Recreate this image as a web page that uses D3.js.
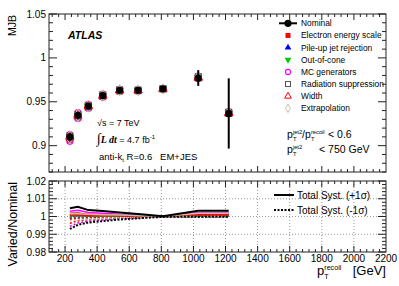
<!DOCTYPE html>
<html lang="en">
<head>
<meta charset="UTF-8">
<title>MJB systematic variations</title>
<style>
  body { margin: 0; background: #fff; }
  svg { display: block; }
  text { font-family: "Liberation Sans", Arial, sans-serif; fill: #000; }
  .frame { fill: none; stroke: #222; stroke-width: 1; }
  .tick { stroke: #222; stroke-width: 1; }
  .grid { stroke: #999; stroke-width: 1; stroke-dasharray: 1,2; }
  .pre { white-space: pre; }
</style>
</head>
<body>
<script src="https://cdn.jsdelivr.net/npm/d3@7"></script>
<script>
// bin centres of p_T^recoil [GeV]
const ptBins = [230, 280, 345, 435, 540, 655, 810, 1030, 1220];
const mjbNominal = [0.910, 0.9345, 0.945, 0.957, 0.963, 0.963, 0.9647, 0.9771, 0.9367];
const mjbStatErr = [0.004, 0.003, 0.003, 0.002, 0.002, 0.002, 0.002, 0.009, 0.040];

// varied / nominal ratios per systematic
const sysNames = ["Electron energy scale", "Pile-up jet rejection", "Out-of-cone", "MC generators",
                  "Radiation suppression", "Width", "Extrapolation"];
const sysColors = ["#ff0000", "#0000ff", "#00cc00", "#ff00ff", "#555555", "#ff0000", "#c8c0a8"];
const sysShapes = ["square", "triangle", "triangleDown", "circle", "squareOpen", "triangleOpen", "diamondOpen"];
const sysUp = [
  [1.0018, 1.0020, 1.0012, 1.0010, 1.0008, 1.0005, 1.0000, 1.0010, 1.0010],
  [1.0004, 1.0004, 1.0003, 1.0002, 1.0002, 1.0001, 1.0000, 1.0002, 1.0002],
  [1.0005, 1.0005, 1.0004, 1.0003, 1.0002, 1.0001, 1.0000, 1.0003, 1.0003],
  [1.0030, 1.0035, 1.0022, 1.0018, 1.0012, 1.0008, 1.0000, 1.0022, 1.0022],
  [1.0012, 1.0012, 1.0010, 1.0008, 1.0006, 1.0004, 1.0000, 1.0015, 1.0015],
  [1.0008, 1.0008, 1.0006, 1.0005, 1.0004, 1.0002, 1.0000, 1.0008, 1.0008],
  [1.0015, 1.0016, 1.0012, 1.0010, 1.0008, 1.0005, 1.0000, 1.0018, 1.0018]
];
const sysDown = [
  [0.9962, 0.9975, 0.9982, 0.9986, 0.9990, 0.9994, 0.9999, 1.0000, 1.0000],
  [0.9996, 0.9996, 0.9997, 0.9998, 0.9998, 0.9999, 1.0000, 1.0000, 1.0000],
  [0.9995, 0.9995, 0.9996, 0.9997, 0.9998, 0.9999, 1.0000, 1.0000, 1.0000],
  [0.9945, 0.9963, 0.9974, 0.9980, 0.9987, 0.9992, 0.9999, 1.0000, 1.0000],
  [0.9985, 0.9988, 0.9990, 0.9992, 0.9994, 0.9996, 1.0000, 1.0000, 1.0000],
  [0.9990, 0.9992, 0.9994, 0.9995, 0.9996, 0.9998, 1.0000, 1.0000, 1.0000],
  [0.9975, 0.9982, 0.9986, 0.9989, 0.9992, 0.9995, 0.9999, 1.0000, 1.0000]
];
const totalUp = [1.0047, 1.0055, 1.0036, 1.0031, 1.0023, 1.0014, 1.0001, 1.0033, 1.0033];
const totalDown = [0.9930, 0.9953, 0.9966, 0.9974, 0.9983, 0.9990, 0.9998, 0.9999, 0.9999];

const xTicks = [200, 400, 600, 800, 1000, 1200, 1400, 1600, 1800, 2000, 2200];
const yTicksTop = [0.9, 0.95, 1, 1.05];
const yTicksBot = [0.98, 0.99, 1, 1.01, 1.02];

const W = 399, H = 286;
const svg = d3.select("body").append("svg").attr("width", W).attr("height", H);

const x = d3.scaleLinear().domain([100, 2200]).range([49, 386]);
const yTop = d3.scaleLinear().domain([0.87, 1.05]).range([172, 14]);
const yBot = d3.scaleLinear().domain([0.98, 1.02]).range([252, 181]);

// ---------- frames and ticks ----------
function drawFrame(y, yMajor, yMinorStep, yFmt) {
  const g = svg.append("g");
  const [y0, y1] = y.range();
  const [x0, x1] = x.range();
  g.append("rect").attr("class", "frame")
    .attr("x", x0).attr("y", y1).attr("width", x1 - x0).attr("height", y0 - y1);

  // x ticks, major every 200, minor every 40
  d3.range(120, 2200, 40).forEach(v => {
    const major = v % 200 === 0;
    const len = major ? 6 : 3;
    g.append("line").attr("class", "tick").attr("x1", x(v)).attr("x2", x(v)).attr("y1", y0).attr("y2", y0 - len);
    g.append("line").attr("class", "tick").attr("x1", x(v)).attr("x2", x(v)).attr("y1", y1).attr("y2", y1 + len);
  });

  // y ticks
  const [d0, d1] = y.domain();
  const n = Math.round((d1 - d0) / yMinorStep);
  for (let i = 0; i <= n; i++) {
    const v = d0 + i * yMinorStep;
    const major = yMajor.some(m => Math.abs(m - v) < 1e-6);
    const len = major ? 8 : 4;
    g.append("line").attr("class", "tick").attr("x1", x0).attr("x2", x0 + len).attr("y1", y(v)).attr("y2", y(v));
    g.append("line").attr("class", "tick").attr("x1", x1).attr("x2", x1 - len).attr("y1", y(v)).attr("y2", y(v));
  }
  yMajor.forEach(v => {
    g.append("text").attr("x", x0 - 3).attr("y", y(v)).attr("dy", "0.35em")
      .attr("text-anchor", "end").attr("font-size", 10).text(yFmt(v));
  });
  return g;
}

// ---------- lower panel grid ----------
const gridG = svg.append("g");
xTicks.filter(v => v < 2200).forEach(v => {
  gridG.append("line").attr("class", "grid").attr("x1", x(v)).attr("x2", x(v))
    .attr("y1", yBot.range()[1]).attr("y2", yBot.range()[0]);
});
[0.99, 1, 1.01].forEach(v => {
  gridG.append("line").attr("class", "grid").attr("x1", x.range()[0]).attr("x2", x.range()[1])
    .attr("y1", yBot(v)).attr("y2", yBot(v));
});

drawFrame(yTop, yTicksTop, 0.01, d => d3.format("")(+d.toFixed(2)));
drawFrame(yBot, yTicksBot, 0.002, d => d3.format("")(+d.toFixed(2)));

// x tick labels
xTicks.forEach(v => {
  svg.append("text").attr("x", x(v)).attr("y", 262).attr("text-anchor", "middle")
    .attr("font-size", 10).text(v);
});

// ---------- markers ----------
function marker(g, shape, cx, cy, color, s) {
  s = s || 3;
  if (shape === "circle") {
    g.append("circle").attr("cx", cx).attr("cy", cy).attr("r", s).attr("fill", "none")
      .attr("stroke", color).attr("stroke-width", 1.2);
  } else if (shape === "square") {
    g.append("rect").attr("x", cx - s).attr("y", cy - s).attr("width", 2 * s).attr("height", 2 * s).attr("fill", color);
  } else if (shape === "squareOpen") {
    g.append("rect").attr("x", cx - s).attr("y", cy - s).attr("width", 2 * s).attr("height", 2 * s)
      .attr("fill", "none").attr("stroke", color).attr("stroke-width", 1);
  } else {
    const sym = shape.startsWith("diamond") ? d3.symbolDiamond : d3.symbolTriangle;
    const open = shape.endsWith("Open");
    const rot = shape === "triangleDown" ? 180 : 0;
    g.append("path").attr("d", d3.symbol().type(sym).size(s * s * 3.2)())
      .attr("transform", `translate(${cx},${cy}) rotate(${rot})`)
      .attr("fill", open ? "none" : color).attr("stroke", open ? color : "none").attr("stroke-width", 1);
  }
}

// ---------- upper panel points ----------
const topG = svg.append("g");
sysNames.forEach((name, k) => {
  ptBins.forEach((pt, i) => {
    marker(topG, sysShapes[k], x(pt), yTop(mjbNominal[i] * sysUp[k][i]), sysColors[k], 3);
    marker(topG, sysShapes[k], x(pt), yTop(mjbNominal[i] * sysDown[k][i]), sysColors[k], 3);
  });
});
ptBins.forEach((pt, i) => {
  topG.append("line").attr("x1", x(pt)).attr("x2", x(pt))
    .attr("y1", yTop(mjbNominal[i] - mjbStatErr[i])).attr("y2", yTop(mjbNominal[i] + mjbStatErr[i]))
    .attr("stroke", "#000").attr("stroke-width", 2);
  topG.append("circle").attr("cx", x(pt)).attr("cy", yTop(mjbNominal[i])).attr("r", 3.6).attr("fill", "#000");
});

// ---------- lower panel ratio lines ----------
const botG = svg.append("g");
const ratioLine = (vals, y) => d3.line().x((d, i) => x(ptBins[i])).y(d => y(d))(vals);
sysNames.forEach((name, k) => {
  botG.append("path").attr("d", ratioLine(sysUp[k], yBot)).attr("fill", "none")
    .attr("stroke", sysColors[k]).attr("stroke-width", 1.5);
  botG.append("path").attr("d", ratioLine(sysDown[k], yBot)).attr("fill", "none")
    .attr("stroke", sysColors[k]).attr("stroke-width", 1.5).attr("stroke-dasharray", "2,2");
});
botG.append("path").attr("d", ratioLine(totalUp, yBot)).attr("fill", "none")
  .attr("stroke", "#000").attr("stroke-width", 2);
botG.append("path").attr("d", ratioLine(totalDown, yBot)).attr("fill", "none")
  .attr("stroke", "#000").attr("stroke-width", 2).attr("stroke-dasharray", "2,1.5");

// ---------- legends ----------
const leg = svg.append("g");
const legY0 = 23.3, legDy = 12.15, legFs = 8.4;
leg.append("line").attr("x1", 279).attr("x2", 297).attr("y1", legY0).attr("y2", legY0)
  .attr("stroke", "#000").attr("stroke-width", 2);
leg.append("circle").attr("cx", 288).attr("cy", legY0).attr("r", 3.6).attr("fill", "#000");
leg.append("text").attr("x", 301).attr("y", legY0).attr("dy", "0.35em").attr("font-size", legFs).text("Nominal");
sysNames.forEach((name, k) => {
  const yy = legY0 + (k + 1) * legDy;
  marker(leg, sysShapes[k], 288, yy, sysColors[k], 2.5);
  leg.append("text").attr("x", 301).attr("y", yy).attr("dy", "0.35em").attr("font-size", legFs).text(name);
});

const leg2 = svg.append("g");
leg2.append("line").attr("x1", 274).attr("x2", 294).attr("y1", 195).attr("y2", 195)
  .attr("stroke", "#000").attr("stroke-width", 2);
leg2.append("text").attr("x", 297).attr("y", 195).attr("dy", "0.35em").attr("font-size", 10).text("Total Syst. (+1σ)");
leg2.append("line").attr("x1", 274).attr("x2", 294).attr("y1", 210).attr("y2", 210)
  .attr("stroke", "#000").attr("stroke-width", 2).attr("stroke-dasharray", "2,1.5");
leg2.append("text").attr("x", 297).attr("y", 210).attr("dy", "0.35em").attr("font-size", 10).text("Total Syst. (-1σ)");

// ---------- labels ----------
svg.append("text").attr("x", 68).attr("y", 39).attr("font-size", 10.5)
  .attr("font-weight", "bold").attr("font-style", "italic").text("ATLAS");

svg.append("text").attr("x", 97).attr("y", 126).attr("font-size", 9).text("√s = 7 TeV");

const lumi = svg.append("text").attr("x", 97).attr("y", 143).attr("font-size", 9);
lumi.append("tspan").attr("font-family", "Liberation Serif, serif").attr("font-size", 14).text("∫");
lumi.append("tspan").attr("font-family", "Liberation Serif, serif").attr("font-style", "italic")
  .attr("font-weight", "bold").attr("font-size", 10).text("L dt");
lumi.append("tspan").text(" = 4.7 fb");
lumi.append("tspan").attr("font-size", 6).attr("dy", -4).text("-1");

const algo = svg.append("text").attr("class", "pre").attr("x", 99).attr("y", 160).attr("font-size", 9.5);
algo.append("tspan").text("anti-k");
algo.append("tspan").attr("font-size", 6).attr("dy", 2).text("t");
algo.append("tspan").attr("dy", -2).text(" R=0.6   EM+JES");

// p_T with super- and subscript, drawn as separate texts
function ptText(px, py, size, sup) {
  const small = size * 0.55;
  svg.append("text").attr("x", px).attr("y", py).attr("font-size", size).text("p");
  svg.append("text").attr("x", px + size * 0.56).attr("y", py - size * 0.42).attr("font-size", small).text(sup);
  svg.append("text").attr("x", px + size * 0.56).attr("y", py + size * 0.28).attr("font-size", small).text("T");
}
ptText(287, 138, 10.5, "jet2");
svg.append("text").attr("x", 302).attr("y", 138).attr("font-size", 10.5).text("/");
ptText(305, 138, 10.5, "recoil");
svg.append("text").attr("x", 328).attr("y", 138).attr("font-size", 10.5).text("< 0.6");
ptText(287, 153, 10.5, "jet2");
svg.append("text").attr("x", 319).attr("y", 153).attr("font-size", 10.5).text("< 750 GeV");

svg.append("text").attr("transform", "translate(16,15) rotate(-90)").attr("text-anchor", "end")
  .attr("font-size", 10.5).text("MJB");
svg.append("text").attr("transform", "translate(17,182) rotate(-90)").attr("text-anchor", "end")
  .attr("font-size", 12.5).text("Varied/Nominal");

ptText(317, 275, 13, "recoil");
svg.append("text").attr("x", 386).attr("y", 275).attr("text-anchor", "end").attr("font-size", 13).text("[GeV]");
</script>
</body>
</html>
